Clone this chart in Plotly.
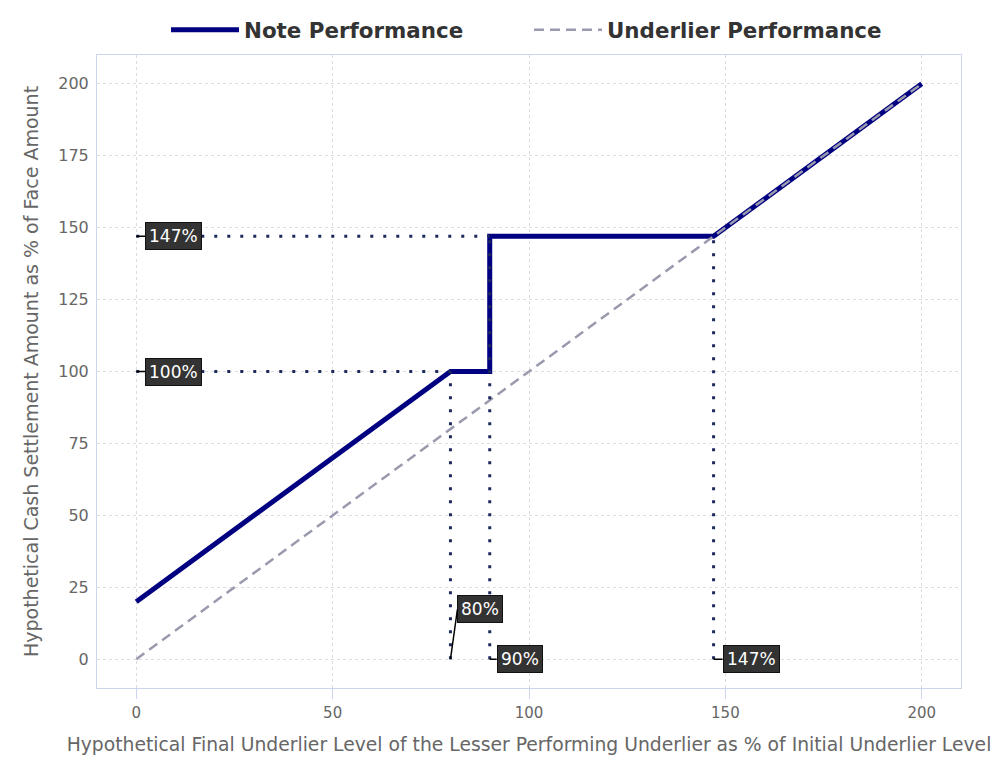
import plotly.graph_objects as go

# Data
note_x = [0, 80, 90, 90, 147, 200]
note_y = [20, 100, 100, 147, 147, 200]
under_x = [0, 200]
under_y = [0, 200]
x_ticks = [0, 50, 100, 150, 200]
y_ticks = [0, 25, 50, 75, 100, 125, 150, 175, 200]
# dotted guide lines: (x0, y0, x1, y1)
guides_h = [(0, 147, 90, 147), (0, 100, 80, 100)]
guides_v = [(80, 0, 80, 100), (90, 0, 90, 147), (147, 0, 147, 147)]
# labels: (x, y, text, ax, ay)
labels = [(0, 147, "147%", 9, 0), (0, 100, "100%", 9, 0),
          (80, 0, "80%", 7, -50), (90, 0, "90%", 7, 0), (147, 0, "147%", 9, 0)]

fig = go.Figure()
fig.add_trace(go.Scatter(x=note_x, y=note_y, mode="lines", name="Note Performance",
                         line=dict(color="#000080", width=5)))
fig.add_trace(go.Scatter(x=under_x, y=under_y, mode="lines", name="Underlier Performance",
                         line=dict(color="#9a9aae", width=2.5, dash="10px,6px")))

for x0, y0, x1, y1 in guides_h + guides_v:
    fig.add_trace(go.Scatter(x=[x0, x1], y=[y0, y1], mode="lines", showlegend=False,
                             hoverinfo="skip",
                             line=dict(color="#1c2a5c", width=3, dash="3px,10px")))

for x, y, t, ax, ay in labels:
    fig.add_annotation(x=x, y=y, text=t, showarrow=True, arrowhead=0, arrowwidth=1.5,
                       arrowcolor="#000000", ax=ax, ay=ay, xanchor="left", yanchor="middle",
                       bgcolor="#333333", bordercolor="#111111", borderwidth=1, borderpad=3,
                       font=dict(color="#ffffff", size=17, family="DejaVu Sans"))

fig.update_layout(
    width=986, height=752,
    paper_bgcolor="white", plot_bgcolor="white",
    margin=dict(l=89, r=33, t=47, b=72),
    font=dict(family="DejaVu Sans", color="#666666"),
    legend=dict(orientation="h", x=0.5, xanchor="center", yref="container", y=0.971,
                yanchor="middle", itemwidth=68, entrywidth=280, entrywidthmode="pixels",
                font=dict(size=21.4, color="#333333", weight="bold")),
    xaxis=dict(range=[-10, 210], tickvals=x_ticks, showgrid=True, gridcolor="#dcdcdc",
               griddash="3px,3px", zeroline=False, showline=True, linecolor="#ccd6eb",
               mirror=True, ticks="outside", tickcolor="#ccd6eb", ticklen=10,
               automargin=False, ticklabelstandoff=1,
               tickfont=dict(size=15, color="#666666"),
               title=dict(text="Hypothetical Final Underlier Level of the Lesser Performing Underlier as % of Initial Underlier Level",
                          font=dict(size=18.75, color="#666666"), standoff=16)),
    yaxis=dict(range=[-10, 210], tickvals=y_ticks, showgrid=True, gridcolor="#dcdcdc",
               griddash="3px,3px", zeroline=False, showline=True, linecolor="#ccd6eb",
               mirror=True, ticks="", tickfont=dict(size=16, color="#666666"),
               ticklabelstandoff=4, automargin=False,
               title=dict(text="Hypothetical Cash Settlement Amount as % of Face Amount",
                          font=dict(size=19, color="#666666"), standoff=14)),
)

fig.write_html("out.html")
